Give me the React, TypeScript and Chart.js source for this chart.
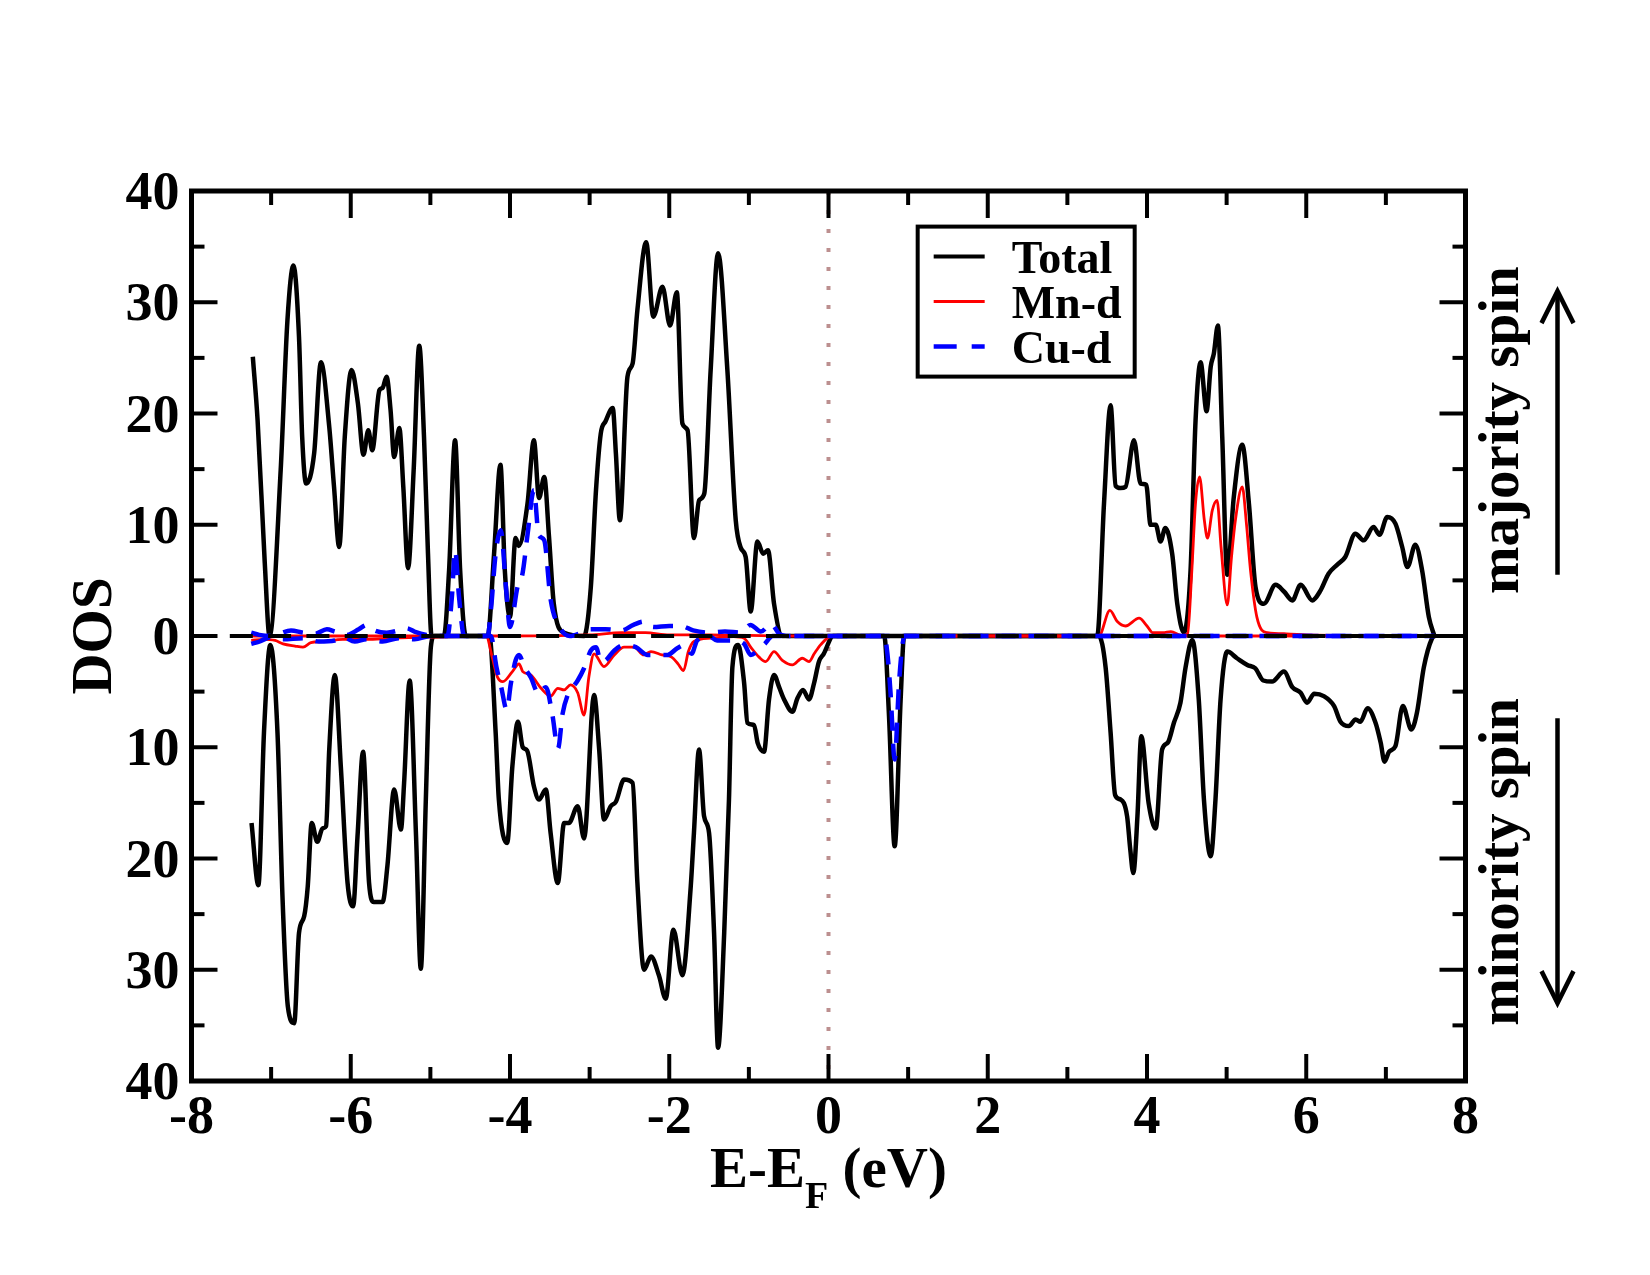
import { useEffect, useRef } from "react";
import { Chart, registerables } from "chart.js";

Chart.register(...registerables);

// ---- Total DOS, majority spin (states/eV) ----
const totalUpE = [
  -7.23, -7.17, -7.08, -7.02, -6.88, -6.795, -6.72, -6.65, -6.61, -6.56, -6.46, -6.375, -6.27, -6.21, -6.145,
  -6.075, -5.99, -5.91, -5.84, -5.78, -5.73, -5.64, -5.6, -5.55, -5.5, -5.455, -5.39, -5.34, -5.28, -5.21,
  -5.14, -5.08, -5.03, -4.985, -4.83, -4.765, -4.69, -4.626, -4.555, -4.28, -4.2, -4.12, -4.065, -4.0, -3.93,
  -3.89, -3.78, -3.7, -3.635, -3.57, -3.51, -3.45, -3.32, -3.07, -2.985, -2.92, -2.86, -2.8, -2.71, -2.67,
  -2.62, -2.525, -2.46, -2.4, -2.29, -2.2, -2.085, -1.99, -1.905, -1.835, -1.77, -1.69, -1.625, -1.56, -1.48,
  -1.387, -1.27, -1.165, -1.1, -1.04, -0.977, -0.893, -0.82, -0.76, -0.684, -0.58, 3.375, 3.46, 3.543, 3.606,
  3.668, 3.73, 3.836, 3.92, 3.99, 4.045, 4.11, 4.17, 4.23, 4.316, 4.38, 4.463, 4.547, 4.61, 4.673, 4.748, 4.8,
  4.84, 4.89, 4.945, 5.008, 5.09, 5.196, 5.28, 5.363, 5.468, 5.615, 5.72, 5.825, 5.93, 6.075, 6.18, 6.28,
  6.387, 6.49, 6.617, 6.72, 6.845, 6.92, 7.017, 7.12, 7.205, 7.27, 7.37, 7.455, 7.54, 7.61,
];
const totalUpDos = [
  25.1, 19.4, 6.6, 0, 14.9, 28.4, 33.3, 26.9, 17.9, 13.7, 16.4, 24.6, 18.8, 13.4, 8.0,
  17.9, 23.9, 20.9, 16.3, 18.5, 16.7, 22.1, 22.3, 23.3, 20.3, 16.1, 18.7, 13.4, 6.1, 14.9,
  26.1, 17.9, 7.4, 0, 0, 5.9, 17.6, 5.9, 0, 0, 7.4, 15.4, 5.9, 1.7, 8.8,
  8.1, 11.9, 17.6, 12.4, 14.3, 8.9, 2.9, 0.3, 0, 4.4, 13.1, 18.2, 19.3, 20.5, 16.4,
  10.4, 23.3, 24.5, 29.3, 35.4, 28.7, 31.4, 27.9, 30.9, 19.1, 18.5, 8.8, 12.2, 12.8, 23.9,
  34.4, 23.9, 10.4, 7.9, 7.1, 2.2, 8.5, 7.4, 7.7, 2.9, 0, 0, 11.9, 20.75, 13.5,
  13.3, 13.4, 17.6, 13.7, 13.6, 10.0, 10.0, 8.5, 9.7, 7.4, 2.9, 0.3, 5.9, 19.4, 24.6, 20.2, 24.2,
  25.4, 27.9, 17.9, 5.5, 12.5, 17.2, 11.9, 4.4, 2.9, 4.6, 4.0, 3.2, 4.6, 3.2, 4.1, 5.6,
  6.4, 7.1, 9.2, 8.6, 9.8, 9.1, 10.7, 10.1, 8.0, 6.2, 8.2, 5.9, 1.7, 0,
];

// ---- Total DOS, minority spin (plotted downward) ----
const totalDnE = [
  -7.246, -7.16, -7.09, -7.01, -6.92, -6.856, -6.79, -6.71, -6.65, -6.585, -6.54, -6.49, -6.42, -6.355, -6.31,
  -6.27, -6.2, -6.125, -6.04, -5.97, -5.915, -5.845, -5.77, -5.71, -5.6, -5.54, -5.455, -5.37, -5.33, -5.26,
  -5.18, -5.12, -5.057, -4.994, -4.95, -4.26, -4.18, -4.14, -4.035, -3.97, -3.9, -3.84, -3.785, -3.7, -3.635,
  -3.55, -3.49, -3.4, -3.32, -3.26, -3.15, -3.07, -2.944, -2.88, -2.82, -2.735, -2.67, -2.567, -2.46, -2.4,
  -2.316, -2.23, -2.13, -2.044, -1.948, -1.835, -1.73, -1.69, -1.626, -1.563, -1.5, -1.437, -1.387, -1.31, -1.25,
  -1.207, -1.136, -1.06, -1.018, -0.935, -0.89, -0.81, -0.747, -0.684, -0.62, -0.558, -0.453, -0.39, -0.32, -0.245,
  -0.18, -0.12, -0.06, 0.06, 0.7, 0.76, 0.831, 0.906, 0.95, 3.396, 3.48, 3.543, 3.6, 3.668, 3.75,
  3.79, 3.828, 3.88, 3.928, 4.02, 4.11, 4.19, 4.26, 4.338, 4.42, 4.485, 4.569, 4.65, 4.715, 4.8,
  4.86, 4.924, 5.008, 5.13, 5.26, 5.36, 5.46, 5.57, 5.72, 5.825, 5.93, 6.01, 6.1, 6.22, 6.35,
  6.43, 6.535, 6.62, 6.68, 6.77, 6.87, 6.935, 6.983, 7.04, 7.12, 7.213, 7.32, 7.39, 7.477, 7.58, 7.61,
];
const totalDnDos = [
  -16.8, -22.4, -8.7, -0.8, -8.7, -23.7, -33.3, -34.8, -26.7, -25.2, -22.5, -16.8, -18.5, -17.3, -17.1,
  -10.2, -3.5, -11.7, -22.2, -24.3, -18.0, -10.4, -22.2, -23.9, -23.9, -20.7, -13.8, -17.4, -13.2, -4.0,
  -18.0, -29.9, -14.7, -1.0, 0, 0, -8.7, -14.7, -18.6, -11.7, -7.7, -10.0, -10.3, -13.5, -14.7,
  -13.8, -17.7, -22.2, -16.8, -16.8, -15.3, -18.2, -5.3, -10.2, -16.5, -15.3, -14.9, -12.9, -13.2, -22.2,
  -30.0, -28.8, -30.5, -32.6, -26.4, -30.5, -22.5, -17.7, -10.2, -16.2, -17.7, -26.7, -37.0, -26.7, -14.7,
  -2.8, -0.8, -4.2, -7.8, -8.0, -9.6, -10.4, -5.7, -3.5, -4.6, -5.7, -6.8, -5.6, -4.85, -5.7,
  -4.2, -2.3, -1.6, 0, 0, -7.2, -18.9, -5.7, 0, 0, -2.8, -8.7, -14.3, -14.7, -16.2,
  -19.2, -21.3, -16.2, -9.0, -15.0, -17.3, -10.2, -9.6, -7.8, -6.0, -2.8, -0.35, -5.7, -14.7, -19.8,
  -14.7, -5.7, -1.4, -2.0, -2.6, -2.9, -4.0, -4.1, -3.2, -4.6, -5.1, -6.0, -5.2, -5.4, -6.3,
  -7.7, -8.1, -7.5, -7.7, -6.5, -7.8, -9.6, -11.3, -10.4, -9.9, -6.3, -8.4, -6.9, -2.8, -0.2, 0,
];

// ---- Mn-d projected DOS ----
const mnUpE = [
  -7.25, -4.3, -3.0, -2.6, -2.3, -2.0, -1.5, -0.5, 3.396, 3.534, 3.627, 3.73, 3.9, 4.0, 4.07, 4.2, 4.3, 4.43,
  4.51, 4.56, 4.61, 4.66, 4.72, 4.76, 4.82, 4.88, 4.93, 5.008, 5.06, 5.11, 5.196, 5.25, 5.3, 5.38, 5.51,
  5.75, 6.0, 7.61,
];
const mnUpDos = [
  0, 0, 0.1, 0.3, 0.3, 0.1, 0.1, 0, 0, 2.3, 1.3, 0.9, 1.6, 0.9, 0.3, 0.3, 0.4, 0.05,
  0.2, 5.5, 12.0, 14.3, 10.4, 8.8, 11.3, 12.2, 8.0, 2.8, 7.0, 10.4, 13.4, 10.0, 5.9, 1.7, 0.3,
  0.2, 0.1, 0,
];
const mnDnE = [
  -7.25, -7.1, -6.95, -6.85, -6.7, -6.6, -6.5, -6.35, -6.1, -5.8, -5.5, -5.0, -4.3, -4.22, -4.157, -4.09,
  -3.97, -3.886, -3.84, -3.74, -3.61, -3.49, -3.4, -3.32, -3.24, -3.15, -3.07, -3.01, -2.944, -2.82, -2.69,
  -2.567, -2.44, -2.32, -2.23, -2.09, -1.97, -1.89, -1.82, -1.76, -1.69, -1.48, -1.19, -1.06, -0.977, -0.872,
  -0.79, -0.684, -0.58, -0.453, -0.33, -0.245, -0.18, -0.1, 0.04, 7.61,
];
const mnDnDos = [
  -0.4, -0.3, -0.4, -0.7, -0.9, -1.0, -0.6, -0.5, -0.3, -0.3, -0.2, -0.1, 0, -2.0, -3.7, -4.1,
  -3.2, -2.5, -3.2, -3.5, -4.7, -5.4, -4.7, -4.85, -4.4, -5.1, -7.1, -3.7, -1.6, -2.75, -1.7,
  -1.0, -1.0, -1.7, -1.4, -1.7, -1.9, -2.5, -3.1, -1.4, -0.5, -0.2, -0.05, -0.2, -1.0, -1.9,
  -2.3, -1.4, -2.2, -2.6, -2.0, -2.3, -1.6, -0.8, 0, 0,
];

// ---- Cu-d projected DOS ----
const cuUpE = [
  -7.25, -7.15, -7.0, -6.9, -6.75, -6.6, -6.45, -6.3, -6.2, -6.05, -5.9, -5.8, -5.7, -5.55, -5.4, -5.3,
  -5.2, -5.05, -4.9, -4.785, -4.73, -4.69, -4.64, -4.576, -4.28, -4.24, -4.18, -4.115, -4.05, -4.0, -3.906,
  -3.843, -3.78, -3.7, -3.64, -3.57, -3.49, -3.36, -3.25, -3.1, -2.985, -2.8, -2.6, -2.45, -2.316, -2.2,
  -2.0, -1.85, -1.7, -1.5, -1.3, -1.1, -0.98, -0.85, -0.72, -0.62, -0.5, 7.61,
];
const cuUpDos = [
  0.3, 0.1, 0, 0.2, 0.5, 0.3, 0.2, 0.6, 0.4, 0.1, 0.6, 1.0, 0.5, 0.3, 0.5, 0.7,
  0.4, 0.1, 0, 0, 3.5, 7.7, 3.5, 0, 0, 2.3, 7.4, 9.5, 4.3, 0.8, 4.4,
  5.6, 9.1, 13.1, 9.1, 8.6, 3.3, 0.6, 0, 0.3, 0.6, 0.6, 0.5, 1.0, 1.3, 0.8,
  0.9, 0.9, 0.5, 0.3, 0.4, 0.3, 1.0, 0.4, 1.1, 0.2, 0, 0,
];
const cuDnE = [
  -7.25, -7.15, -7.0, -6.85, -6.6, -6.4, -6.2, -6.1, -5.95, -5.8, -5.6, -5.4, -5.2, -5.0, -4.24, -4.17,
  -4.11, -4.04, -3.99, -3.93, -3.886, -3.82, -3.74, -3.64, -3.55, -3.47, -3.396, -3.34, -3.28, -3.22, -3.15,
  -3.07, -2.985, -2.92, -2.86, -2.8, -2.69, -2.567, -2.42, -2.27, -2.11, -2.02, -1.9, -1.8, -1.72, -1.65,
  -1.5, -1.4, -1.2, -1.06, -0.977, -0.9, -0.8, -0.7, 0.7, 0.74, 0.78, 0.831, 0.885, 0.93, 0.96, 7.61,
];
const cuDnDos = [
  -0.7, -0.5, -0.1, -0.3, -0.2, -0.5, -0.4, -0.1, -0.5, -0.3, -0.5, -0.2, -0.3, 0, 0, -2.8,
  -4.6, -6.65, -4.3, -2.2, -1.7, -2.8, -3.7, -5.2, -4.6, -7.0, -10.1, -7.0, -5.4, -4.7, -4.0,
  -2.9, -1.3, -1.0, -2.3, -2.2, -1.3, -0.8, -1.0, -1.7, -1.7, -1.7, -1.1, -0.8, -1.6, -0.4,
  0, -0.4, -0.4, -0.7, -1.7, -1.4, -0.7, 0, 0, -1.6, -5.2, -11.1, -4.3, -0.7, 0, 0,
];

// ---- axes ----
const xRange = [-8, 8];
const yRange = [-40, 40];
const xMajorTicks = [-8, -6, -4, -2, 0, 2, 4, 6, 8];
const xMinorTicks = [-7, -5, -3, -1, 1, 3, 5, 7];
const xTickLabels = ["-8", "-6", "-4", "-2", "0", "2", "4", "6", "8"];
const yMajorTicks = [40, 30, 20, 10, 0, -10, -20, -30, -40];
const yMinorTicks = [35, 25, 15, 5, -5, -15, -25, -35];
const yTickLabels = ["40", "30", "20", "10", "0", "10", "20", "30", "40"];

const seriesNames = ["Total", "Mn-d", "Cu-d"];
const seriesColors = ["#000000", "#ff0000", "#0000ff"];

const SERIF = '"Liberation Serif", "Times New Roman", serif';

function pts(e: number[], d: number[]) {
  return e.map((x, i) => ({ x, y: d[i] }));
}

// frame with inward ticks, tick labels, axis titles, legend and spin annotations
const decorations = {
  id: "dosDecorations",
  afterDraw(chart: any) {
    const { ctx, chartArea: a, scales } = chart;
    const xs = scales.x;
    const ys = scales.y;
    ctx.save();
    ctx.strokeStyle = "#000";
    ctx.fillStyle = "#000";
    ctx.lineCap = "butt";
    ctx.setLineDash([]);

    const seg = (x1: number, y1: number, x2: number, y2: number) => {
      ctx.beginPath();
      ctx.moveTo(x1, y1);
      ctx.lineTo(x2, y2);
      ctx.stroke();
    };

    // ticks pointing into the plot
    ctx.lineWidth = 4;
    xMajorTicks.forEach((v) => {
      const px = xs.getPixelForValue(v);
      seg(px, a.bottom, px, a.bottom - 27);
      seg(px, a.top, px, a.top + 27);
    });
    xMinorTicks.forEach((v) => {
      const px = xs.getPixelForValue(v);
      seg(px, a.bottom, px, a.bottom - 14);
      seg(px, a.top, px, a.top + 14);
    });
    yMajorTicks.forEach((v) => {
      const py = ys.getPixelForValue(v);
      seg(a.left, py, a.left + 26, py);
      seg(a.right, py, a.right - 26, py);
    });
    yMinorTicks.forEach((v) => {
      const py = ys.getPixelForValue(v);
      seg(a.left, py, a.left + 13, py);
      seg(a.right, py, a.right - 13, py);
    });

    // frame
    ctx.lineWidth = 5;
    ctx.strokeRect(a.left, a.top, a.right - a.left, a.bottom - a.top);

    // tick labels
    ctx.font = `bold 54px ${SERIF}`;
    ctx.textBaseline = "alphabetic";
    ctx.textAlign = "center";
    xMajorTicks.forEach((v, i) => {
      ctx.fillText(xTickLabels[i], xs.getPixelForValue(v), a.bottom + 52);
    });
    ctx.textAlign = "right";
    yMajorTicks.forEach((v, i) => {
      ctx.fillText(yTickLabels[i], a.left - 12, ys.getPixelForValue(v) + 18);
    });

    // x title: E-E_F (eV)
    const cx = (a.left + a.right) / 2;
    const base = a.bottom + 106;
    const big = `bold 57px ${SERIF}`;
    const small = `bold 38px ${SERIF}`;
    ctx.font = big;
    const w1 = ctx.measureText("E-E").width;
    const w3 = ctx.measureText(" (eV)").width;
    ctx.font = small;
    const w2 = ctx.measureText("F").width;
    let x0 = cx - (w1 + w2 + w3) / 2;
    ctx.textAlign = "left";
    ctx.font = big;
    ctx.fillText("E-E", x0, base);
    x0 += w1;
    ctx.font = small;
    ctx.fillText("F", x0, base + 21);
    x0 += w2;
    ctx.font = big;
    ctx.fillText(" (eV)", x0, base);

    // y title
    const cy = (a.top + a.bottom) / 2;
    const rotText = (text: string, bx: number, by: number) => {
      ctx.save();
      ctx.translate(bx, by);
      ctx.rotate(-Math.PI / 2);
      ctx.textAlign = "center";
      ctx.textBaseline = "alphabetic";
      ctx.fillText(text, 0, 0);
      ctx.restore();
    };
    ctx.font = big;
    rotText("DOS", a.left - 81, cy);

    // spin annotations on the right
    rotText("majority spin", a.right + 52, ys.getPixelForValue(18.5));
    rotText("minority spin", a.right + 52, ys.getPixelForValue(-20.3));

    // arrows
    ctx.lineWidth = 4.5;
    const ax = a.right + 92;
    const upTop = ys.getPixelForValue(31);
    const upBot = ys.getPixelForValue(5.5);
    seg(ax, upBot, ax, upTop);
    ctx.beginPath();
    ctx.moveTo(ax - 16, upTop + 32);
    ctx.lineTo(ax, upTop);
    ctx.lineTo(ax + 16, upTop + 32);
    ctx.stroke();
    const dnTop = ys.getPixelForValue(-7.4);
    const dnBot = ys.getPixelForValue(-33);
    seg(ax, dnTop, ax, dnBot);
    ctx.beginPath();
    ctx.moveTo(ax - 16, dnBot - 32);
    ctx.lineTo(ax, dnBot);
    ctx.lineTo(ax + 16, dnBot - 32);
    ctx.stroke();

    // legend
    const lx = xs.getPixelForValue(1.12);
    const ly = ys.getPixelForValue(36.8);
    const lw = 217;
    const lh = 150;
    ctx.fillStyle = "#fff";
    ctx.fillRect(lx, ly, lw, lh);
    ctx.lineWidth = 4;
    ctx.strokeRect(lx, ly, lw, lh);
    ctx.font = `bold 46px ${SERIF}`;
    ctx.textAlign = "left";
    const widths = [4, 3, 4.5];
    const dashes = [[], [], [23, 15]];
    seriesNames.forEach((name, i) => {
      const yMid = ly + 30 + i * 45;
      ctx.strokeStyle = seriesColors[i];
      ctx.lineWidth = widths[i];
      ctx.setLineDash(dashes[i]);
      seg(lx + 16, yMid, lx + 67, yMid);
      ctx.setLineDash([]);
      ctx.fillStyle = "#000";
      ctx.fillText(name, lx + 94, yMid + 16);
    });

    ctx.restore();
  },
};

export default function App() {
  const canvasRef = useRef<HTMLCanvasElement | null>(null);

  useEffect(() => {
    const canvas = canvasRef.current;
    if (!canvas) return;
    const common = {
      showLine: true,
      pointRadius: 0,
      pointHoverRadius: 0,
      fill: false,
      cubicInterpolationMode: "monotone" as const,
    };
    const chart = new Chart(canvas, {
      type: "scatter",
      data: {
        datasets: [
          {
            ...common,
            label: "zero",
            data: [
              { x: xRange[0], y: 0 },
              { x: xRange[1], y: 0 },
            ],
            borderColor: "#000",
            borderWidth: 4,
            borderDash: [23, 15.3],
            cubicInterpolationMode: "default",
            tension: 0,
            order: 0,
          },
          {
            ...common,
            label: "Cu-d up",
            data: pts(cuUpE, cuUpDos),
            borderColor: seriesColors[2],
            borderWidth: 4.5,
            borderDash: [20, 13],
            order: 1,
          },
          {
            ...common,
            label: "Cu-d down",
            data: pts(cuDnE, cuDnDos),
            borderColor: seriesColors[2],
            borderWidth: 4.5,
            borderDash: [20, 13],
            order: 1,
          },
          {
            ...common,
            label: "Mn-d up",
            data: pts(mnUpE, mnUpDos),
            borderColor: seriesColors[1],
            borderWidth: 2.8,
            order: 2,
          },
          {
            ...common,
            label: "Mn-d down",
            data: pts(mnDnE, mnDnDos),
            borderColor: seriesColors[1],
            borderWidth: 2.8,
            order: 2,
          },
          {
            ...common,
            label: "Total up",
            data: pts(totalUpE, totalUpDos),
            borderColor: seriesColors[0],
            borderWidth: 4.5,
            order: 3,
          },
          {
            ...common,
            label: "Total down",
            data: pts(totalDnE, totalDnDos),
            borderColor: seriesColors[0],
            borderWidth: 4.5,
            order: 3,
          },
          {
            ...common,
            label: "Fermi level",
            data: [
              { x: 0, y: yRange[1] },
              { x: 0, y: yRange[0] },
            ],
            borderColor: "#bc8f8f",
            borderWidth: 4,
            borderDash: [4, 15],
            cubicInterpolationMode: "default",
            tension: 0,
            order: 4,
          },
        ],
      },
      options: {
        responsive: false,
        devicePixelRatio: 1,
        animation: false,
        events: [],
        layout: { padding: { left: 191.5, right: 184.5, top: 191, bottom: 194 } },
        scales: {
          x: { type: "linear", min: xRange[0], max: xRange[1], display: false },
          y: { type: "linear", min: yRange[0], max: yRange[1], display: false },
        },
        plugins: {
          legend: { display: false },
          tooltip: { enabled: false },
        },
      },
      plugins: [decorations],
    });
    return () => chart.destroy();
  }, []);

  return (
    <div
      style={{
        position: "fixed",
        left: 0,
        top: 0,
        width: 1650,
        height: 1275,
        background: "#ffffff",
      }}
    >
      <canvas ref={canvasRef} width={1650} height={1275} style={{ width: 1650, height: 1275 }} />
    </div>
  );
}
